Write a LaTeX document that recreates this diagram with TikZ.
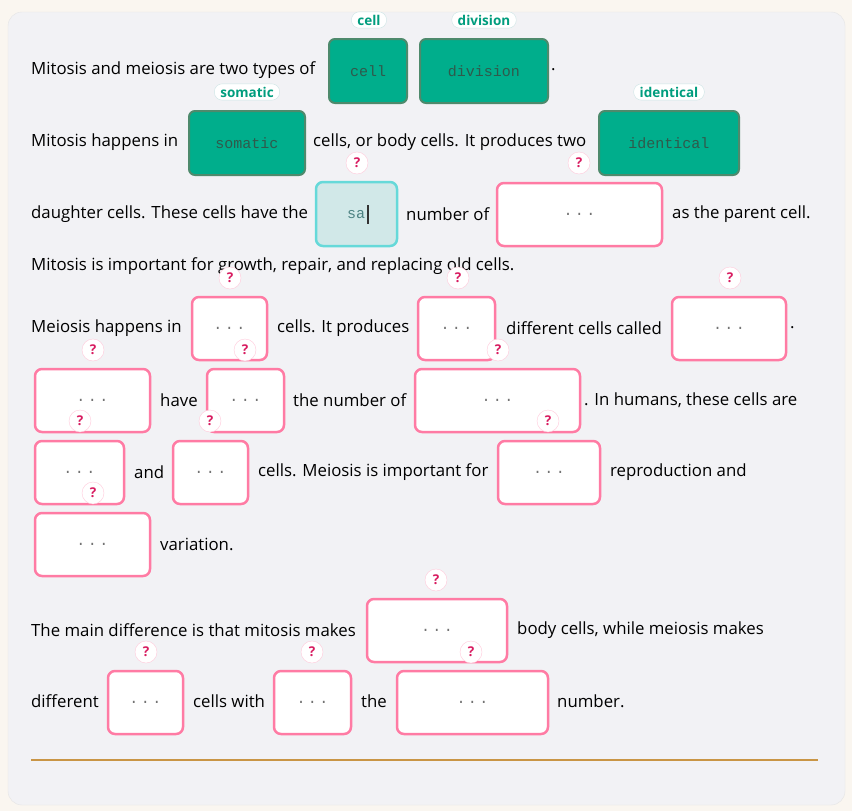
\documentclass[tikz,border=0pt]{standalone}
\usepackage{fontspec}
\setmainfont{Open Sans}
\setmonofont{Liberation Mono}
\definecolor{bg}{HTML}{FAF6F0}
\definecolor{card}{HTML}{F2F2F5}
\definecolor{tealf}{HTML}{00AE8C}
\definecolor{teald}{HTML}{4E8A6C}
\definecolor{pinkb}{HTML}{FF7BA4}
\definecolor{qc}{HTML}{D81B60}
\definecolor{rule}{HTML}{C99545}
\definecolor{monoc}{HTML}{2F5A4C}
\newcommand{\bx}[6]{\draw[#1] (#2,#3) rectangle (#4,#5); \node[font=\ttfamily\fontsize{15}{16}\selectfont,text=black!55] at ({(#2+#4)/2},{(#3+#5)/2}) {#6};}
\begin{document}
\begin{tikzpicture}[x=1pt,y=-1pt,
 txt/.style={anchor=west,inner sep=0pt,font=\fontsize{16.8}{19}\selectfont},
 filled/.style={draw=teald,line width=2pt,rounded corners=6pt,fill=tealf},
 mono/.style={font=\ttfamily\fontsize{15}{16}\selectfont,text=monoc},
 act/.style={draw=teal!50!cyan!60,line width=2.5pt,rounded corners=7pt,fill=teal!18},
 blank/.style={draw=pinkb,line width=2.5pt,rounded corners=7pt,fill=white},
 tag/.style={draw=teal!20,fill=white,rounded corners=8pt,inner xsep=6pt,inner ysep=3pt,font=\bfseries\fontsize{13.5}{14}\selectfont,text=tealf!90!black},
 q/.style={circle,draw=pinkb!40,fill=white,inner sep=0pt,minimum size=22pt,font=\bfseries\fontsize{13.5}{14}\selectfont,text=qc}]
\fill[bg] (0,0) rectangle (852,811);
\draw[fill=card,draw=black!10,rounded corners=14pt] (8,12) rectangle (845,805);
% Row1
\node[txt] (t1) at (31,70) {Mitosis and meiosis are two types of};
\draw[filled] (329,39) rectangle (407,103); \node[mono] (b1) at (368,71) {cell};
\draw[filled] (420,39) rectangle (548,103); \node[mono] (b2) at (484,71) {division};
\node[txt] (t1b) at (551,70) {.};
\node[tag] (l1) at (369,20) {cell};
\node[tag] (l2) at (484,20) {division};
% Row2
\node[txt] (t2) at (31,142) {Mitosis happens in};
\draw[filled] (189,111) rectangle (305,175); \node[mono] (b3) at (247,143) {somatic};
\node[txt] (t2b) at (313,142) {cells, or body cells. It produces two};
\draw[filled] (599,111) rectangle (739,175); \node[mono] (b4) at (669,143) {identical};
\node[tag] (l3) at (247,92) {somatic};
\node[tag] (l4) at (669,92) {identical};
% Row3
\node[txt] (t3) at (31,214) {daughter cells. These cells have the};
\draw[act] (316,182) rectangle (397,246); \node[mono,text=teal!60!black!70] (b5) at (356,215) {sa};
\draw[black!80,line width=1.2pt] (368,205) -- (368,224);
\node[txt] (t3b) at (406,214) {number of};
\bx{blank}{497}{183}{662}{246}{.\,.\,.}
\node[txt] (t3c) at (672,214) {as the parent cell.};
% Row4
\node[txt] (t4) at (31,266) {Mitosis is important for growth, repair, and replacing old cells.};
% Row5
\node[txt] (t5) at (31,328) {Meiosis happens in};
\bx{blank}{192}{297}{267}{360}{.\,.\,.}
\node[txt] (t5b) at (277,328) {cells. It produces};
\bx{blank}{418}{297}{495}{360}{.\,.\,.}
\node[txt] (t5c) at (506,328) {different cells called};
\bx{blank}{672}{297}{786}{360}{.\,.\,.}
\node[txt] (t5d) at (790,328) {.};
% Row6
\bx{blank}{35}{369}{150}{432}{.\,.\,.}
\node[txt] (t6) at (160,400) {have};
\bx{blank}{207}{369}{284}{432}{.\,.\,.}
\node[txt] (t6b) at (293,400) {the number of};
\bx{blank}{415}{369}{580}{432}{.\,.\,.}
\node[txt] (t6c) at (584,400) {. In humans, these cells are};
% Row7
\bx{blank}{35}{441}{124}{504}{.\,.\,.}
\node[txt] (t7) at (134,472) {and};
\bx{blank}{173}{441}{248}{504}{.\,.\,.}
\node[txt] (t7b) at (258,472) {cells. Meiosis is important for};
\bx{blank}{498}{441}{600}{504}{.\,.\,.}
\node[txt] (t7c) at (610,472) {reproduction and};
% Row8
\bx{blank}{35}{513}{150}{576}{.\,.\,.}
\node[txt] (t8) at (160,544) {variation.};
% Row9
\node[txt] (t9) at (31,630) {The main difference is that mitosis makes};
\bx{blank}{367}{599}{507}{662}{.\,.\,.}
\node[txt] (t9b) at (517,630) {body cells, while meiosis makes};
% Row10
\node[txt] (t10) at (31,701) {different};
\bx{blank}{108}{671}{183}{734}{.\,.\,.}
\node[txt] (t10b) at (193,701) {cells with};
\bx{blank}{274}{671}{351}{734}{.\,.\,.}
\node[txt] (t10c) at (361,701) {the};
\bx{blank}{397}{671}{548}{734}{.\,.\,.}
\node[txt] (t10d) at (557,701) {number.};
% badges
\foreach \i/\x/\y in {1/357/163,2/579/163,3/230/278,4/458/278,5/730/278,6/93/350,7/245/350,8/498/350,9/80/421,10/210/421,11/548/421,12/93/493,13/436/580,14/146/652,15/312/652,16/471/652}
  \node[q] (q\i) at (\x,\y) {?};
\draw[line width=1.3pt,color=rule] (31,760) -- (818,760);
\end{tikzpicture}
\end{document}
